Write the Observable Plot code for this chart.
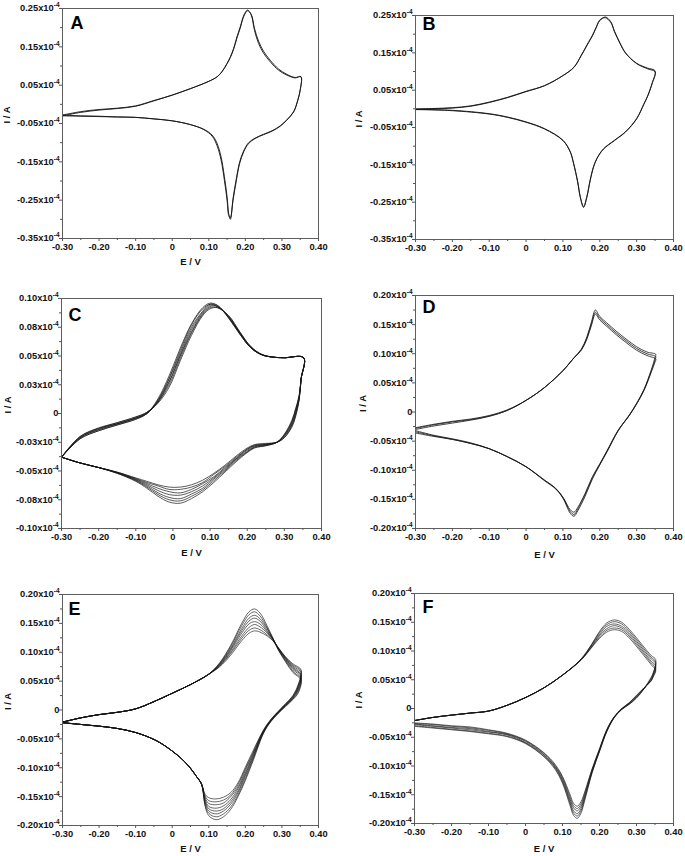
<!DOCTYPE html>
<html><head><meta charset="utf-8">
<script src="https://cdn.jsdelivr.net/npm/d3@7"></script>
<script src="https://cdn.jsdelivr.net/npm/@observablehq/plot@0.6"></script>
<style>
html,body{margin:0;padding:0;background:#fff;}
#chart{position:relative;width:685px;height:856px;background:#fff;overflow:hidden;}
#chart svg{position:absolute;}
</style></head><body><div id="chart"></div>
<script>
// ---------- shared axis data ----------
const xTicks = [-0.30,-0.20,-0.10,0,0.10,0.20,0.30,0.40];
const xTickLabels = ["-0.30","-0.20","-0.10","0","0.10","0.20","0.30","0.40"];
const xMinor = [-0.25,-0.15,-0.05,0.05,0.15,0.25,0.35];

const yTicksAB = [0.25,0.15,0.05,-0.05,-0.15,-0.25,-0.35];
const yLabelsAB = ["0.25x10^-4","0.15x10^-4","0.05x10^-4","-0.05x10^-4","-0.15x10^-4","-0.25x10^-4","-0.35x10^-4"];
const yMinorAB = [0.20,0.10,0,-0.10,-0.20,-0.30];

const yTicksC = [0.10,0.075,0.05,0.025,0,-0.025,-0.05,-0.075,-0.10];
const yLabelsC = ["0.10x10^-4","0.08x10^-4","0.05x10^-4","0.03x10^-4","0","-0.03x10^-4","-0.05x10^-4","-0.08x10^-4","-0.10x10^-4"];
const yMinorC = [0.0875,0.0625,0.0375,0.0125,-0.0125,-0.0375,-0.0625,-0.0875];

const yTicksDEF = [0.20,0.15,0.10,0.05,0,-0.05,-0.10,-0.15,-0.20];
const yLabelsDEF = ["0.20x10^-4","0.15x10^-4","0.10x10^-4","0.05x10^-4","0","-0.05x10^-4","-0.10x10^-4","-0.15x10^-4","-0.20x10^-4"];
const yMinorDEF = [0.175,0.125,0.075,0.025,-0.025,-0.075,-0.125,-0.175];

// ---------- Panel A ----------
const A_fwdE = [-0.30,-0.25,-0.20,-0.15,-0.10,-0.05,0,0.05,0.10,0.123,0.136,0.150,0.159,0.168,0.177,0.186,0.196,0.206,0.216,0.225,0.236,0.250,0.268,0.291,0.314,0.336,0.352];
const A_fwdI = [
  [-0.028,-0.019,-0.0135,-0.010,-0.004,0.010,0.024,0.041,0.060,0.072,0.085,0.107,0.124,0.146,0.176,0.202,0.233,0.246,0.233,0.193,0.159,0.133,0.111,0.089,0.076,0.069,0.072],
  [-0.030,-0.021,-0.015,-0.011,-0.005,0.009,0.024,0.041,0.060,0.072,0.085,0.106,0.122,0.144,0.173,0.199,0.230,0.244,0.235,0.198,0.165,0.138,0.115,0.092,0.078,0.070,0.072]
];
const A_revE = [0.35,0.3436,0.332,0.3136,0.2955,0.273,0.25,0.227,0.209,0.1955,0.1845,0.1755,0.1664,0.159,0.1545,0.15,0.1427,0.1336,0.1227,0.109,0.0864,0.05,0,-0.05,-0.10,-0.15,-0.20,-0.25,-0.30];
const A_revI = [
  [0.037,0.011,-0.020,-0.041,-0.057,-0.070,-0.079,-0.089,-0.102,-0.124,-0.154,-0.198,-0.250,-0.300,-0.285,-0.241,-0.189,-0.137,-0.102,-0.080,-0.065,-0.053,-0.043,-0.038,-0.034,-0.033,-0.031,-0.030,-0.028],
  [0.038,0.012,-0.019,-0.040,-0.056,-0.069,-0.078,-0.088,-0.100,-0.121,-0.150,-0.193,-0.245,-0.296,-0.290,-0.250,-0.198,-0.145,-0.108,-0.083,-0.066,-0.053,-0.043,-0.038,-0.034,-0.033,-0.032,-0.031,-0.030]
];

// ---------- Panel B ----------
const B_fwdE = [-0.30,-0.25,-0.20,-0.15,-0.10,-0.05,0,0.05,0.10,0.13,0.15,0.17,0.18,0.19,0.20,0.215,0.23,0.24,0.255,0.27,0.30,0.33,0.35];
const B_fwdI = [
  [0.000,0.001,0.003,0.008,0.018,0.031,0.047,0.062,0.089,0.111,0.143,0.178,0.195,0.217,0.236,0.246,0.233,0.208,0.176,0.150,0.121,0.107,0.099],
  [-0.002,0.000,0.002,0.007,0.017,0.030,0.046,0.062,0.089,0.112,0.144,0.180,0.197,0.218,0.238,0.244,0.231,0.206,0.175,0.149,0.122,0.109,0.102]
];
const B_revE = [0.342,0.33,0.32,0.30,0.27,0.24,0.21,0.192,0.183,0.174,0.165,0.156,0.147,0.14,0.129,0.12,0.10,0.05,0,-0.05,-0.10,-0.20,-0.30];
const B_revI = [
  [0.067,0.034,0.013,-0.027,-0.062,-0.085,-0.108,-0.134,-0.156,-0.192,-0.237,-0.264,-0.237,-0.196,-0.147,-0.116,-0.085,-0.054,-0.036,-0.023,-0.014,-0.005,-0.002],
  [0.069,0.035,0.014,-0.026,-0.061,-0.084,-0.107,-0.133,-0.155,-0.190,-0.234,-0.262,-0.235,-0.195,-0.146,-0.115,-0.084,-0.053,-0.035,-0.022,-0.013,-0.004,-0.001]
];

// ---------- Panel C ----------
const C_fwdE = [-0.30,-0.25,-0.20,-0.15,-0.10,-0.07,-0.04,-0.01,0.02,0.05,0.08,0.10,0.12,0.15,0.18,0.21,0.24,0.27,0.30,0.352];
const C_fwdI = [
  [-0.038,-0.020,-0.0125,-0.008,-0.003,0.001,0.009,0.023,0.046,0.068,0.085,0.091,0.092,0.085,0.071,0.058,0.0515,0.049,0.0485,0.0485],
  [-0.038,-0.020,-0.013,-0.008,-0.003,0.001,0.010,0.025,0.048,0.070,0.086,0.092,0.092,0.085,0.071,0.058,0.051,0.049,0.0485,0.0485],
  [-0.038,-0.021,-0.013,-0.009,-0.004,0.001,0.010,0.027,0.050,0.071,0.087,0.093,0.093,0.084,0.070,0.058,0.051,0.049,0.0485,0.0485],
  [-0.038,-0.021,-0.014,-0.009,-0.004,0.000,0.011,0.028,0.051,0.073,0.088,0.094,0.093,0.084,0.070,0.057,0.051,0.049,0.0485,0.0485],
  [-0.038,-0.021,-0.014,-0.009,-0.004,0.000,0.011,0.030,0.053,0.075,0.089,0.095,0.093,0.084,0.070,0.057,0.051,0.049,0.0485,0.0485],
  [-0.038,-0.022,-0.015,-0.010,-0.005,0.000,0.012,0.031,0.055,0.077,0.091,0.095,0.094,0.083,0.069,0.057,0.051,0.049,0.0485,0.0485],
  [-0.038,-0.022,-0.015,-0.010,-0.005,0.000,0.013,0.033,0.057,0.078,0.092,0.096,0.094,0.083,0.069,0.057,0.051,0.049,0.0485,0.0485]
];
const C_revE = [0.345,0.34,0.33,0.32,0.30,0.28,0.25,0.22,0.20,0.17,0.14,0.11,0.08,0.05,0.02,-0.01,-0.04,-0.07,-0.10,-0.15,-0.20,-0.25,-0.30];
const C_revI = [
  [0.030,0.012,-0.003,-0.012,-0.021,-0.025,-0.026,-0.027,-0.030,-0.037,-0.045,-0.052,-0.058,-0.062,-0.064,-0.064,-0.062,-0.059,-0.056,-0.051,-0.047,-0.043,-0.038],
  [0.030,0.013,-0.002,-0.011,-0.021,-0.025,-0.0265,-0.0275,-0.031,-0.038,-0.046,-0.053,-0.060,-0.064,-0.066,-0.066,-0.063,-0.060,-0.0565,-0.051,-0.047,-0.043,-0.038],
  [0.030,0.013,0.000,-0.010,-0.020,-0.025,-0.027,-0.028,-0.031,-0.039,-0.047,-0.055,-0.061,-0.066,-0.069,-0.068,-0.065,-0.061,-0.057,-0.0515,-0.047,-0.043,-0.038],
  [0.030,0.014,0.000,-0.009,-0.0195,-0.025,-0.027,-0.0285,-0.032,-0.0395,-0.048,-0.056,-0.063,-0.068,-0.071,-0.0705,-0.067,-0.062,-0.0575,-0.0515,-0.047,-0.043,-0.038],
  [0.030,0.015,0.002,-0.008,-0.019,-0.025,-0.0275,-0.029,-0.033,-0.040,-0.049,-0.057,-0.065,-0.070,-0.074,-0.073,-0.069,-0.063,-0.058,-0.0515,-0.047,-0.043,-0.038],
  [0.030,0.015,0.003,-0.007,-0.0185,-0.025,-0.028,-0.0295,-0.0335,-0.041,-0.050,-0.0585,-0.0665,-0.072,-0.076,-0.075,-0.0705,-0.064,-0.0585,-0.052,-0.047,-0.043,-0.038],
  [0.030,0.016,0.004,-0.006,-0.018,-0.025,-0.028,-0.030,-0.034,-0.042,-0.051,-0.060,-0.068,-0.074,-0.078,-0.077,-0.072,-0.065,-0.059,-0.052,-0.047,-0.043,-0.038]
];

// ---------- Panel D ----------
const D_fwdE = [-0.30,-0.25,-0.20,-0.15,-0.10,-0.05,0,0.05,0.10,0.13,0.15,0.165,0.178,0.188,0.20,0.219,0.246,0.274,0.30,0.328,0.352];
const D_fwdI = [
  [-0.030,-0.024,-0.019,-0.014,-0.0075,0.003,0.020,0.042,0.071,0.093,0.106,0.125,0.150,0.168,0.158,0.147,0.132,0.118,0.106,0.097,0.091],
  [-0.028,-0.022,-0.017,-0.013,-0.007,0.003,0.020,0.042,0.071,0.093,0.107,0.127,0.153,0.171,0.161,0.150,0.135,0.121,0.109,0.100,0.095],
  [-0.027,-0.021,-0.016,-0.012,-0.006,0.004,0.020,0.042,0.071,0.093,0.108,0.129,0.156,0.175,0.164,0.153,0.138,0.124,0.112,0.103,0.099]
];
const D_revE = [0.35,0.34,0.32,0.30,0.28,0.25,0.22,0.20,0.18,0.16,0.14,0.13,0.12,0.10,0.08,0.05,0,-0.05,-0.10,-0.15,-0.20,-0.25,-0.30];
const D_revI = [
  [0.086,0.069,0.037,0.014,-0.006,-0.031,-0.066,-0.089,-0.111,-0.140,-0.164,-0.172,-0.168,-0.146,-0.131,-0.117,-0.094,-0.077,-0.063,-0.054,-0.047,-0.042,-0.036],
  [0.090,0.071,0.038,0.014,-0.006,-0.032,-0.067,-0.090,-0.113,-0.142,-0.167,-0.176,-0.171,-0.147,-0.131,-0.117,-0.094,-0.077,-0.063,-0.054,-0.047,-0.041,-0.034],
  [0.094,0.073,0.039,0.015,-0.005,-0.032,-0.068,-0.091,-0.115,-0.145,-0.170,-0.179,-0.174,-0.148,-0.132,-0.118,-0.094,-0.077,-0.063,-0.053,-0.046,-0.040,-0.032]
];

// ---------- Panel E ----------
const E_fwdCommonE = [-0.30,-0.25,-0.20,-0.15,-0.10,-0.05,0,0.05];
const E_fwdCommonI = [-0.021,-0.0136,-0.008,-0.004,0.002,0.0145,0.029,0.044];
const E_fwdE = [0.10,0.13,0.16,0.19,0.21,0.225,0.24,0.26,0.275,0.29,0.31,0.33,0.352];
const E_fwdI = [
  [0.062,0.075,0.095,0.120,0.133,0.137,0.135,0.128,0.120,0.108,0.092,0.080,0.070],
  [0.062,0.076,0.098,0.124,0.138,0.142,0.139,0.130,0.121,0.108,0.091,0.078,0.068],
  [0.062,0.077,0.100,0.128,0.143,0.148,0.144,0.133,0.122,0.107,0.090,0.076,0.065],
  [0.062,0.078,0.103,0.133,0.149,0.153,0.149,0.135,0.123,0.107,0.089,0.074,0.062],
  [0.062,0.079,0.105,0.137,0.154,0.159,0.154,0.137,0.123,0.106,0.088,0.072,0.060],
  [0.062,0.080,0.107,0.141,0.159,0.164,0.158,0.140,0.124,0.105,0.086,0.070,0.057],
  [0.062,0.081,0.110,0.146,0.165,0.170,0.163,0.142,0.124,0.105,0.085,0.067,0.054],
  [0.062,0.082,0.112,0.150,0.170,0.175,0.168,0.145,0.125,0.104,0.083,0.065,0.052]
];
const E_revE = [0.345,0.33,0.31,0.29,0.27,0.25,0.22,0.20,0.18,0.16,0.14,0.12,0.10,0.09,0.08];
const E_revI = [
  [0.045,0.025,0.011,-0.002,-0.016,-0.034,-0.072,-0.099,-0.126,-0.143,-0.151,-0.154,-0.152,-0.146,-0.128],
  [0.043,0.024,0.010,-0.003,-0.017,-0.035,-0.075,-0.102,-0.129,-0.147,-0.156,-0.159,-0.157,-0.149,-0.128],
  [0.041,0.023,0.010,-0.003,-0.017,-0.036,-0.077,-0.105,-0.133,-0.150,-0.161,-0.164,-0.162,-0.152,-0.128],
  [0.039,0.022,0.009,-0.004,-0.018,-0.037,-0.080,-0.109,-0.136,-0.155,-0.166,-0.170,-0.167,-0.155,-0.128],
  [0.037,0.021,0.008,-0.004,-0.018,-0.037,-0.082,-0.112,-0.140,-0.159,-0.171,-0.175,-0.171,-0.158,-0.128],
  [0.035,0.020,0.008,-0.005,-0.019,-0.038,-0.085,-0.115,-0.143,-0.163,-0.175,-0.180,-0.175,-0.161,-0.128],
  [0.032,0.019,0.007,-0.005,-0.019,-0.039,-0.087,-0.119,-0.147,-0.168,-0.180,-0.185,-0.179,-0.164,-0.128],
  [0.030,0.018,0.006,-0.006,-0.020,-0.040,-0.090,-0.122,-0.150,-0.172,-0.185,-0.190,-0.183,-0.167,-0.128]
];
const E_revTailE = [0.065,0.05,0.03,0.01,-0.02,-0.05,-0.10,-0.15,-0.20,-0.25,-0.30];
const E_revTailI = [-0.114,-0.101,-0.087,-0.076,-0.062,-0.051,-0.039,-0.032,-0.028,-0.025,-0.022];

// ---------- Panel F ----------
const F_fwdCommonE = [-0.30,-0.25,-0.20,-0.15,-0.10,-0.05,0,0.05,0.10];
const F_fwdCommonI = [-0.021,-0.0155,-0.0115,-0.008,-0.0045,0.0055,0.019,0.036,0.058];
const F_fwdE = [0.15,0.18,0.20,0.22,0.24,0.26,0.28,0.30,0.32,0.34,0.352];
const F_fwdI = [
  [0.084,0.107,0.122,0.133,0.137,0.134,0.123,0.108,0.092,0.076,0.066],
  [0.0845,0.108,0.124,0.136,0.140,0.137,0.126,0.111,0.095,0.079,0.070],
  [0.085,0.109,0.127,0.139,0.144,0.140,0.129,0.114,0.098,0.082,0.074],
  [0.085,0.111,0.129,0.143,0.147,0.143,0.132,0.117,0.101,0.086,0.078],
  [0.0855,0.112,0.132,0.146,0.151,0.147,0.135,0.120,0.104,0.089,0.081],
  [0.086,0.113,0.134,0.149,0.154,0.150,0.138,0.123,0.107,0.092,0.085]
];
const F_revE = [0.345,0.34,0.32,0.30,0.28,0.26,0.24,0.22,0.20,0.18,0.16,0.15,0.14,0.13,0.12,0.10,0.08,0.05,0,-0.05,-0.10,-0.15,-0.20,-0.25,-0.30];
const F_revI = [
  [0.055,0.048,0.036,0.023,0.010,0.000,-0.014,-0.036,-0.070,-0.105,-0.145,-0.162,-0.170,-0.165,-0.149,-0.118,-0.097,-0.077,-0.055,-0.043,-0.037,-0.032,-0.030,-0.027,-0.025],
  [0.056,0.049,0.035,0.022,0.0095,-0.0005,-0.0145,-0.037,-0.071,-0.106,-0.148,-0.166,-0.174,-0.169,-0.153,-0.120,-0.099,-0.078,-0.056,-0.044,-0.038,-0.0335,-0.031,-0.028,-0.026],
  [0.057,0.050,0.035,0.021,0.009,-0.001,-0.015,-0.038,-0.072,-0.108,-0.151,-0.170,-0.178,-0.173,-0.157,-0.123,-0.101,-0.080,-0.057,-0.045,-0.040,-0.035,-0.033,-0.030,-0.027],
  [0.059,0.052,0.034,0.020,0.008,-0.001,-0.015,-0.038,-0.073,-0.109,-0.154,-0.174,-0.183,-0.178,-0.161,-0.125,-0.102,-0.081,-0.059,-0.046,-0.041,-0.037,-0.034,-0.031,-0.028],
  [0.060,0.053,0.034,0.019,0.0075,-0.0015,-0.0155,-0.039,-0.074,-0.111,-0.157,-0.178,-0.187,-0.182,-0.164,-0.128,-0.104,-0.083,-0.060,-0.048,-0.043,-0.039,-0.036,-0.033,-0.030],
  [0.062,0.055,0.034,0.018,0.007,-0.002,-0.016,-0.040,-0.075,-0.112,-0.160,-0.182,-0.191,-0.186,-0.168,-0.130,-0.106,-0.084,-0.061,-0.049,-0.044,-0.040,-0.037,-0.034,-0.031]
];

// ---------- helpers ----------
const pairs = (E, I) => E.map((e, i) => [e, I[i]]);
function rows(cycles) {
  return cycles.flatMap((c, k) => c.map(([E, I]) => ({E, I, cycle: k})));
}
const cyclesA = A_fwdI.map((r, k) => [...pairs(A_fwdE, r), ...pairs(A_revE, A_revI[k])]);
const cyclesB = B_fwdI.map((r, k) => [...pairs(B_fwdE, r), ...pairs(B_revE, B_revI[k])]);
const cyclesC = C_fwdI.map((r, k) => [...pairs(C_fwdE, r), ...pairs(C_revE, C_revI[k])]);
const cyclesD = D_fwdI.map((r, k) => [...pairs(D_fwdE, r), ...pairs(D_revE, D_revI[k])]);
const cyclesE = E_fwdI.map((r, k) => [...pairs(E_fwdCommonE, E_fwdCommonI), ...pairs(E_fwdE, r), ...pairs(E_revE, E_revI[k]), ...pairs(E_revTailE, E_revTailI)]);
const cyclesF = F_fwdI.map((r, k) => [...pairs(F_fwdCommonE, F_fwdCommonI), ...pairs(F_fwdE, r), ...pairs(F_revE, F_revI[k])]);

const panels = [
  {letter:"A", pos:[0,0,340,280], m:[8,22,42,62], yDomain:[-0.35,0.25], yT:yTicksAB, yL:yLabelsAB, yM:yMinorAB, cyc:cyclesA, xLab:26, yLab:-56, ldx:8, ldy:8, sw:0.9},
  {letter:"B", pos:[340,0,345,280], m:[15,12,41,75], yDomain:[-0.35,0.25], yT:yTicksAB, yL:yLabelsAB, yM:yMinorAB, cyc:cyclesB, xLab:null, yLab:-57, ldx:7, ldy:2, sw:0.9},
  {letter:"C", pos:[0,280,340,290], m:[18,19,42,61], yDomain:[-0.10,0.10], yT:yTicksC, yL:yLabelsC, yM:yMinorC, cyc:cyclesC, xLab:27, yLab:-54, ldx:7, ldy:10, sw:0.7},
  {letter:"D", pos:[340,280,345,290], m:[15,12,42,75], yDomain:[-0.20,0.20], yT:yTicksDEF, yL:yLabelsDEF, yM:yMinorDEF, cyc:cyclesD, xLab:29, yLab:-53, ldx:7, ldy:5, sw:0.8},
  {letter:"E", pos:[0,575,340,281], m:[19,22,31,62], yDomain:[-0.20,0.20], yT:yTicksDEF, yL:yLabelsDEF, yM:yMinorDEF, cyc:cyclesE, xLab:26, yLab:-55, ldx:6, ldy:8, sw:0.65},
  {letter:"F", pos:[340,575,345,281], m:[18,12,33,74], yDomain:[-0.20,0.20], yT:yTicksDEF, yL:yLabelsDEF, yM:yMinorDEF, cyc:cyclesF, xLab:28, yLab:-56, ldx:8, ldy:7, sw:0.65}
];

const FONT = "'Liberation Sans', Arial, Helvetica, sans-serif";
const chart = document.getElementById("chart");
const xLabMap = new Map(xTicks.map((t, i) => [t, xTickLabels[i]]));

for (const p of panels) {
  const yLabMap = new Map(p.yT.map((t, i) => [t, p.yL[i]]));
  const marks = [
    Plot.line(rows(p.cyc), {x: "E", y: "I", z: "cycle", stroke: "#151515", strokeWidth: p.sw, curve: "catmull-rom", clip: true}),
    Plot.frame({stroke: "#5e5e5e", strokeWidth: 1}),
    Plot.axisX(xMinor, {tickSize: 2, tickFormat: () => "", label: null, stroke: "#555"}),
    Plot.axisX(xTicks, {tickSize: 3, tickPadding: 2, tickFormat: d => xLabMap.get(d), label: null, stroke: "#555", fill: "#111"}),
    Plot.axisY(p.yM, {tickSize: 2, tickFormat: () => "", label: null, stroke: "#555"}),
    Plot.axisY(p.yT, {tickSize: 3, tickPadding: 0, tickFormat: d => yLabMap.get(d), label: null, stroke: "#555", fill: "#111"}),
    Plot.text([p.letter], {text: d => d, frameAnchor: "top-left", dx: p.ldx, dy: p.ldy, lineAnchor: "top", textAnchor: "start", fontSize: 18, fontWeight: "bold", fill: "#000"}),
    Plot.text(["I / A"], {text: d => d, frameAnchor: "left", dx: p.yLab, rotate: -90, fontSize: 9.5, fontWeight: "bold", fill: "#111"})
  ];
  if (p.xLab != null) marks.push(Plot.text(["E / V"], {text: d => d, frameAnchor: "bottom", dy: p.xLab, fontSize: 9.5, fontWeight: "bold", fill: "#111"}));
  const svg = Plot.plot({
    width: p.pos[2], height: p.pos[3],
    marginTop: p.m[0], marginRight: p.m[1], marginBottom: p.m[2], marginLeft: p.m[3],
    x: {domain: [-0.30, 0.40]},
    y: {domain: p.yDomain},
    style: {fontFamily: FONT, fontSize: "9.3px", fontWeight: "bold", background: "transparent", color: "#111"},
    marks
  });
  svg.style.left = p.pos[0] + "px";
  svg.style.top = p.pos[1] + "px";
  // superscript exponent on y tick labels
  svg.querySelectorAll('g[aria-label="y-axis tick label"] text').forEach(t => {
    const s = t.textContent;
    const i = s.indexOf("^");
    if (i < 0) return;
    t.textContent = s.slice(0, i);
    const ts = document.createElementNS("http://www.w3.org/2000/svg", "tspan");
    ts.setAttribute("dy", "-4");
    ts.setAttribute("font-size", "6.5");
    ts.textContent = s.slice(i + 1);
    t.appendChild(ts);
  });
  chart.appendChild(svg);
}
</script></body></html>
